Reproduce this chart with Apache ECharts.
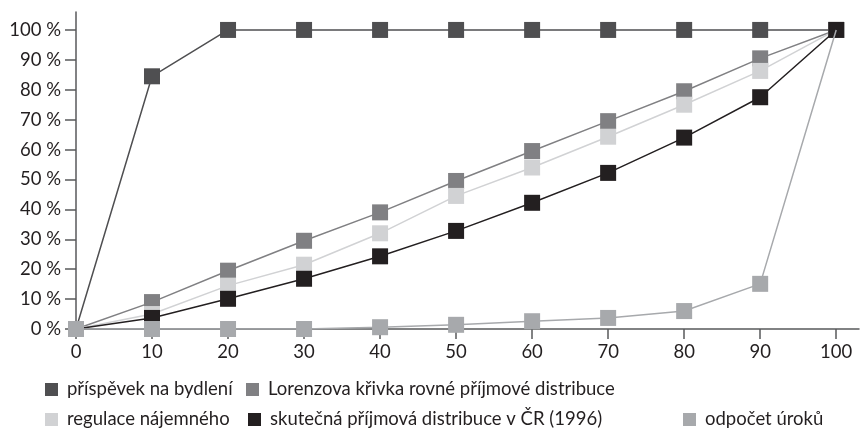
<!DOCTYPE html>
<html><head><meta charset="utf-8">
<script src="https://cdn.jsdelivr.net/npm/echarts@6/dist/echarts.min.js"></script>
<style>html,body{margin:0;padding:0;background:#fff}#c{width:863px;height:431px}</style>
</head><body><div id="c"></div>
<script>
var xValues = [0,10,20,30,40,50,60,70,80,90,100];
var xTicks = [0,10,20,30,40,50,60,70,80,90,100];
var yTicks = [0,10,20,30,40,50,60,70,80,90,100];
var names = ['příspěvek na bydlení','Lorenzova křivka rovné příjmové distribuce','regulace nájemného','skutečná příjmová distribuce v ČR (1996)','odpočet úroků'];
var prispevek = [0,84.5,100,100,100,100,100,100,100,100,100];
var lorenz = [0,9,19.5,29.5,39,49.5,59.5,69.5,79.5,90.5,100];
var regulace = [0,5,14.5,21.5,32,44.5,54,64.3,75,86.3,100];
var skutecna = [0,3.7,10.1,16.8,24.3,32.8,42.2,52.2,64,77.5,100];
var odpocet = [0,0,0,0,0.6,1.4,2.6,3.7,6,15.1,100];
var colors = ['#4f4f51','#808083','#d1d2d4','#231f20','#a7a9ac'];
var seriesVals = [prispevek,lorenz,regulace,skutecna,odpocet];

var font = 'Lato';
var series = seriesVals.map(function(vals,i){
  return {
    name: names[i], type:'line', symbol:'rect', symbolSize:16,
    data: vals.map(function(v,j){
      var p = {value:[xValues[j], v]};
      if (i===4 && j===vals.length-1) p.symbol='none';
      return p;
    }),
    lineStyle:{color:colors[i], width:1.5},
    itemStyle:{color:colors[i]},
    emphasis:{disabled:true}, animation:false, z: 2+i
  };
});
var legendPos = [[40,375],[241,375],[40,405],[243,405],[678,405]];
var legends = names.map(function(n,i){
  return {data:[n], left:legendPos[i][0], top:legendPos[i][1], icon:'rect', itemWidth:13, itemHeight:13, itemGap:10,
    textStyle:{fontFamily:font, fontSize:18.5, color:'#231f20', padding:[0,0,0,4]}, selectedMode:false};
});
var chart = echarts.init(document.getElementById('c'), null, {renderer:'canvas'});
chart.setOption({
  animation:false,
  color: colors,
  legend: legends,
  grid:{left:76, right:4, top:12, bottom:102, containLabel:false},
  xAxis:{type:'value', min:0, max:103, interval:10,
    axisLine:{lineStyle:{color:'#58595b', width:1.5}},
    axisTick:{customValues:xTicks, length:10, lineStyle:{color:'#58595b', width:1.5}},
    axisLabel:{customValues:xTicks, fontFamily:font, fontSize:18.5, color:'#231f20', margin:14},
    splitLine:{show:false}},
  yAxis:{type:'value', min:0, max:106, interval:10,
    axisLine:{show:true, lineStyle:{color:'#58595b', width:1.5}},
    axisTick:{show:true, customValues:yTicks, length:11, lineStyle:{color:'#58595b', width:1.5}},
    axisLabel:{customValues:yTicks, fontFamily:font, fontSize:18.5, color:'#231f20', margin:15, formatter:function(v){return v+' %';}},
    splitLine:{show:false}},
  series: series
});
</script></body></html>
